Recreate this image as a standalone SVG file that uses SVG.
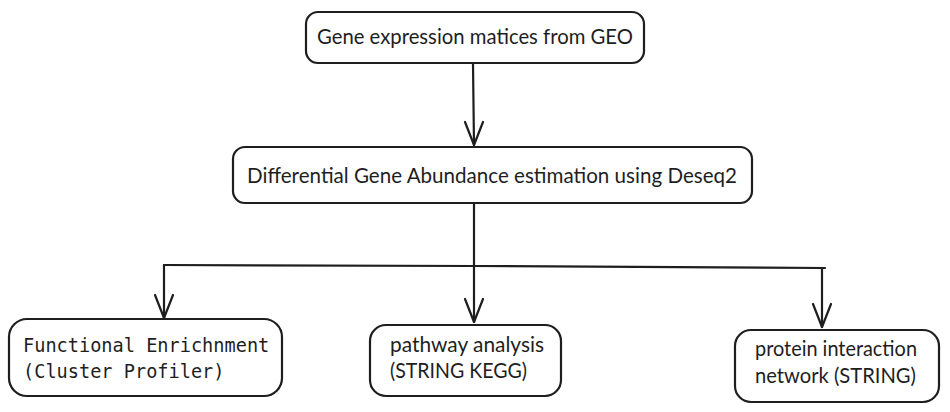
<svg xmlns="http://www.w3.org/2000/svg" width="950" height="412" viewBox="0 0 950 412">
<style>
.box{fill:#ffffff;stroke:#1e1e1e;stroke-width:2.2;stroke-linejoin:round}
.ln{fill:none;stroke:#1e1e1e;stroke-width:2.2;stroke-linecap:round;stroke-linejoin:round}
.t{font-family:Lato,"Open Sans","Liberation Sans",sans-serif;font-size:20.6px;fill:#1e1e1e}
.m{font-family:"DejaVu Sans Mono","Liberation Mono",monospace;font-size:18.6px;fill:#1e1e1e}
</style>
<rect width="950" height="412" fill="#ffffff"/>
<g id="connectors">
<path class="ln" d="M473 64 L474 145"/>
<path class="ln" d="M465 122 L474 145 L483 122"/>
<path class="ln" d="M474 204 L474 266"/>
<path class="ln" d="M164 265 L474 266 L825 268"/>
<path class="ln" d="M164 265 L164 318"/>
<path class="ln" d="M155 295 L164 318 L173 295"/>
<path class="ln" d="M474 266 L474 322"/>
<path class="ln" d="M465 299 L474 322 L483 299"/>
<path class="ln" d="M822 268 L822 327"/>
<path class="ln" d="M813 304 L822 327 L831 304"/>
</g>
<g id="node-geo">
<rect class="box" x="306" y="12" width="338" height="51" rx="12"/>
<text class="t" x="317" y="44" textLength="316" lengthAdjust="spacingAndGlyphs">Gene expression matices from GEO</text>
</g>
<g id="node-deseq">
<rect class="box" x="233" y="147" width="519" height="56" rx="12"/>
<text class="t" x="247" y="183" textLength="490" lengthAdjust="spacingAndGlyphs">Differential Gene Abundance estimation using Deseq2</text>
</g>
<g id="node-functional">
<rect class="box" x="9" y="319" width="273" height="77" rx="18"/>
<text class="m" x="23" y="352">Functional Enrichnment</text>
<text class="m" x="23" y="378">(Cluster Profiler)</text>
</g>
<g id="node-pathway">
<rect class="box" x="370" y="325" width="191" height="71" rx="16"/>
<text class="t" x="390" y="352" textLength="154" lengthAdjust="spacingAndGlyphs">pathway analysis</text>
<text class="t" x="390" y="378" textLength="137" lengthAdjust="spacingAndGlyphs">(STRING KEGG)</text>
</g>
<g id="node-protein">
<rect class="box" x="735" y="330" width="204" height="72" rx="16"/>
<text class="t" x="755" y="356" textLength="162" lengthAdjust="spacingAndGlyphs">protein interaction</text>
<text class="t" x="755" y="383" textLength="161" lengthAdjust="spacingAndGlyphs">network (STRING)</text>
</g>
</svg>
